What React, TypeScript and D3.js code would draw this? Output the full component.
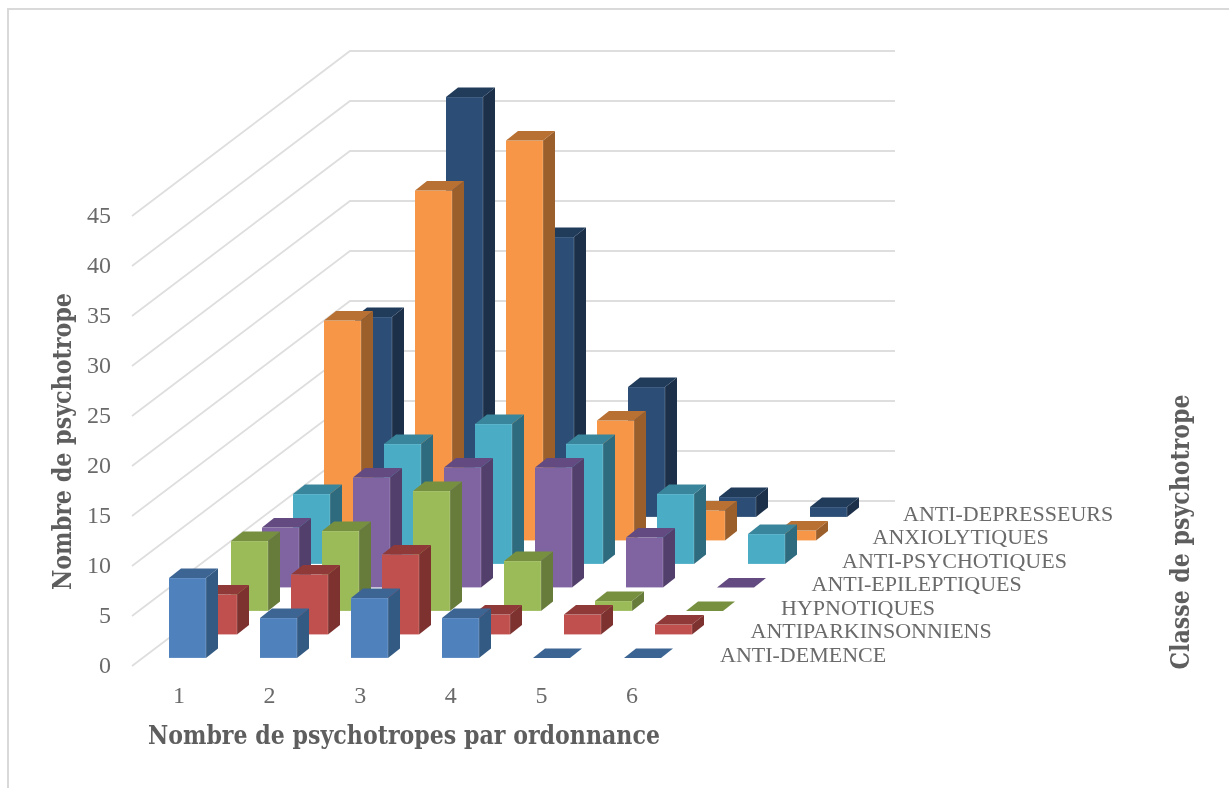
import React from 'react';
import * as d3 from 'd3';

// nombre de psychotropes par ordonnance
const categories = ['1', '2', '3', '4', '5', '6'];
const classes = ['ANTI-DEMENCE', 'ANTIPARKINSONNIENS', 'HYPNOTIQUES', 'ANTI-EPILEPTIQUES', 'ANTI-PSYCHOTIQUES', 'ANXIOLYTIQUES', 'ANTI-DEPRESSEURS'];
const antiDemence = [8, 4, 6, 4, 0, 0];
const antiParkinsonniens = [4, 6, 8, 2, 2, 1];
const hypnotiques = [7, 8, 12, 5, 1, 0];
const antiEpileptiques = [6, 11, 12, 12, 5, 0];
const antiPsychotiques = [7, 12, 14, 12, 7, 3];
const anxiolytiques = [22, 35, 40, 12, 3, 1];
const antiDepresseurs = [20, 42, 28, 13, 2, 1];
const yTicks = [0, 5, 10, 15, 20, 25, 30, 35, 40, 45];

const seriesValues = [antiDemence, antiParkinsonniens, hypnotiques, antiEpileptiques, antiPsychotiques, anxiolytiques, antiDepresseurs];
// front, side, top
const seriesColors = [
  ['#4f81bd', '#335a83', '#3c6594'],
  ['#c0504d', '#7e3230', '#8f3a38'],
  ['#9bbb59', '#677b3b', '#76903f'],
  ['#8064a2', '#533f6b', '#634a80'],
  ['#4bacc6', '#2e6b7e', '#39859b'],
  ['#f79646', '#9b5f2c', '#b87033'],
  ['#2c4d75', '#1c3049', '#213b5a'],
];

const width = 1229;
const height = 788;
const font = '"Liberation Serif", serif';
const titleFont = '"DejaVu Serif Condensed", "DejaVu Serif", serif';
const textColor = '#6a6a6a';
const titleColor = '#5e5e5e';
const gridColor = '#dedede';

const barW = 37;
const sideDx = 12;
const sideDy = 9.5;

// screen position of a bar's front-left corner: x along categories, plus a shift per row of depth
const xCat = d3.scalePoint<string>().domain(categories).range([169, 624]);
const xLabel = d3.scalePoint<string>().domain(categories).range([179, 632]);
const depthX = d3.scalePoint<string>().domain(classes).range([0, 186]);
const depthY = d3.scalePoint<string>().domain(classes).range([658, 517]);
const classLabelX = d3.scalePoint<string>().domain(classes).range([720, 903]);
const yHeight = d3.scaleLinear().domain([0, 45]).range([0, 450]);

// wall / floor corners for the gridlines
const frontX = 132;
const frontBase = 666;
const backX = 350;
const backBase = 501;
const rightX = 895;

const poly = d3.line();

function Bar({ cat, cls, value, colors }: { cat: string; cls: string; value: number; colors: string[] }) {
  const x0 = (xCat(cat) as number) + (depthX(cls) as number);
  const base = depthY(cls) as number;
  const top = base - yHeight(value);
  const x1 = x0 + barW;
  const [front, side, roof] = colors;
  return (
    <g>
      {value > 0 && (
        <>
          <path d={poly([[x1, top], [x1 + sideDx, top - sideDy], [x1 + sideDx, base - sideDy], [x1, base]])!} fill={side} />
          <path d={poly([[x0, top], [x1, top], [x1, base], [x0, base]])!} fill={front} stroke="#ffffff" strokeOpacity={0.25} strokeWidth={0.8} />
        </>
      )}
      <path d={poly([[x0, top], [x1, top], [x1 + sideDx, top - sideDy], [x0 + sideDx, top - sideDy]])!} fill={roof} />
    </g>
  );
}

export default function App() {
  const rows = classes.map((cls, i) => ({ cls, i })).reverse();
  return (
    <svg width={width} height={height} style={{ position: 'absolute', left: 0, top: 0, background: '#fff', filter: 'blur(0.4px)' }}>
      <path d="M8,788V9H1229" fill="none" stroke="#d9d9d9" strokeWidth={2} />

      {yTicks.map(t => {
        const h = yHeight(t);
        return (
          <g key={t}>
            <path
              d={poly([[frontX, frontBase - h], [backX, backBase - h], [rightX, backBase - h]])!}
              fill="none"
              stroke={gridColor}
              strokeWidth={1.8}
            />
            <text x={111} y={frontBase - h + 7} textAnchor="end" fontFamily={font} fontSize={24} fill={textColor}>{t}</text>
          </g>
        );
      })}

      {rows.map(({ cls, i }) => (
        <g key={cls}>
          {categories.map((cat, j) => (
            <Bar key={cat} cat={cat} cls={cls} value={seriesValues[i][j]} colors={seriesColors[i]} />
          ))}
        </g>
      ))}

      {categories.map(cat => (
        <text key={cat} x={xLabel(cat)} y={703} textAnchor="middle" fontFamily={font} fontSize={24} fill={textColor}>{cat}</text>
      ))}

      {classes.map(cls => (
        <text key={cls} x={classLabelX(cls)} y={(depthY(cls) as number) + 3.5} fontFamily={font} fontSize={22} fill={textColor}>{cls}</text>
      ))}

      <text x={148} y={744} fontFamily={titleFont} fontSize={26} fontWeight="bold" fill={titleColor} textLength={512} lengthAdjust="spacingAndGlyphs">Nombre de psychotropes par ordonnance</text>
      <text transform="translate(71,441.5) rotate(-90)" textAnchor="middle" fontFamily={titleFont} fontSize={26} fontWeight="bold" fill={titleColor} textLength={297} lengthAdjust="spacingAndGlyphs">Nombre de psychotrope</text>
      <text transform="translate(1189,532) rotate(-90)" textAnchor="middle" fontFamily={titleFont} fontSize={26} fontWeight="bold" fill={titleColor} textLength={275} lengthAdjust="spacingAndGlyphs">Classe de psychotrope</text>
    </svg>
  );
}
